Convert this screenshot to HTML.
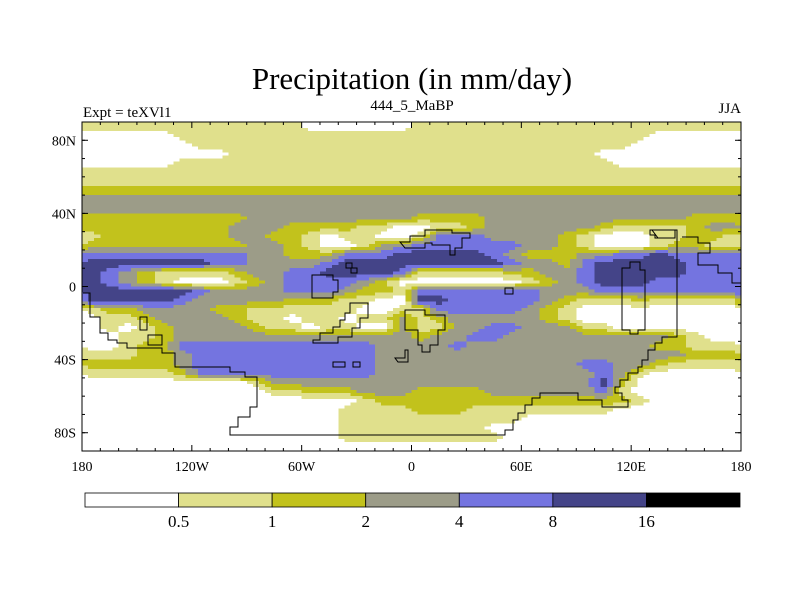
<!DOCTYPE html>
<html><head><meta charset="utf-8"><style>
body{margin:0;background:#fff;}
svg{display:block;font-family:"Liberation Serif",serif;}
</style></head><body>
<svg id="chart" width="800" height="600" viewBox="0 0 800 600">
<rect width="800" height="600" fill="#fff"/>
<text x="412" y="89" font-size="31" text-anchor="middle">Precipitation (in mm/day)</text>
<text x="83" y="117" font-size="15">Expt = teXVl1</text>
<text x="412" y="110" font-size="15" text-anchor="middle">444_5_MaBP</text>
<text x="741" y="113" font-size="15" text-anchor="end">JJA</text>
<g id="cells" shape-rendering="crispEdges"></g>
<g id="coast" fill="none" stroke="#000" stroke-width="1"></g>
<rect x="82" y="122" width="659" height="329" fill="none" stroke="#000" stroke-width="1"/>
<g id="axes"></g>
<g id="cbar"></g>
</svg>
<script>
const levels = ["0.5","1","2","4","8","16"];
const colors = ["#ffffff","#e0e08c","#c2c21c","#9c9c88","#7474e0","#444488","#000000"];
const lonTicks = [-180,-120,-60,0,60,120,180];
const lonLabels = ["180","120W","60W","0","60E","120E","180"];
const latTicks = [80,40,0,-40,-80];
const latLabels = ["80N","40N","0","40S","80S"];
// rows: latitude bands from 90N down by 5 deg; columns: 10 deg from 180W; digits = colour class
const field = [
"111111111111000000111111111111111111",
"000001111111111111111111111111100000",
"000000111111111111111111111111000000",
"000000001111111111111111111100000000",
"000001111111111111111111111110000000",
"111111111111111111111111111111111111",
"111111111111111111111111111111111111",
"222222222222222222222222222222222222",
"333333333333333333333333333333333333",
"333333333333333333333333333333333333",
"222222222333333333222233333333333222",
"222222223332222110011233333321111233",
"122222223322101100144433332100011221",
"222222222332100133444444332100012211",
"444444444332224445555543222334454444",
"555555544333345555555554332455555444",
"543211112334455554111112233455555444",
"543210001234444320000000123455544444",
"555555433334443221444444433344444444",
"555554333332221100554444432111211111",
"122333322111111001144444321000000000",
"011233332110110113123333321000000000",
"010123333211011003113344333110000000",
"001123333333333333233443333333332100",
"001224444444444433334333333333322111",
"111223444444444433333333333333333222",
"222223444444444433333333333443321111",
"111112444444444433333333333343100000",
"000000000133333333333333333352000000",
"000000000011222333222233333341000000",
"000000000000000122222222222222100000",
"000000000000001111222111111110000000",
"000000000000001111111111000000000000",
"000000000000001111111100000000000000",
"000000000000001111111110000000000000",
"000000000000000000000000000000000000"
];
const X0=82,X1=741,Y0=122,Y1=451;
const xLon = lon => X0 + (lon+180)/360*(X1-X0);
const yLat = lat => Y0 + (90-lat)/180*(Y1-Y0);
const NS="http://www.w3.org/2000/svg";
const mk=(t,a,p)=>{const e=document.createElementNS(NS,t);for(const k in a)e.setAttribute(k,a[k]);p.appendChild(e);return e;};
const NR=field.length, NC=field[0].length;
const val=(r,c)=>{r=Math.max(0,Math.min(NR-1,r));c=((c%NC)+NC)%NC;return +field[r][c];};
const cells=document.getElementById('cells');
const SUB=3;
for(let r=0;r<NR;r++){
  for(let c=0;c<NC;c++){
    for(let i=0;i<SUB;i++){
      for(let j=0;j<SUB;j++){
        // sub-cell centre in grid-index space (cell centres at integer indices)
        const fr=r+(i+0.5)/SUB-0.5, fc=c+(j+0.5)/SUB-0.5;
        const r0=Math.floor(fr), c0=Math.floor(fc), dr=fr-r0, dc=fc-c0;
        const v=val(r0,c0)*(1-dr)*(1-dc)+val(r0,c0+1)*(1-dr)*dc+val(r0+1,c0)*dr*(1-dc)+val(r0+1,c0+1)*dr*dc;
        const k=Math.round(v);
        const lo0=-180+10*(c+j/SUB), lo1=lo0+10/SUB;
        const la0=90-5*(r+i/SUB), la1=la0-5/SUB;
        const e=mk('rect',{x:xLon(lo0),y:yLat(la0),width:xLon(lo1)-xLon(lo0)+0.5,height:yLat(la1)-yLat(la0)+0.5,fill:colors[k]},cells);
        
        
      }
    }
  }
}
// coastline outlines (pixel paths)
const coastPaths=[
"M83,293 H90 V317 H100 V333 H108 V340 H117 V343 H127 V348 H162 V353 H175 V367 H230 V372 H245 V377 H257 V407 H250 V417 H238 V427 H230 V435 H505 V430 H513 V420 H518 V413 H525 V405 H532 V398 H540 V393 H578 V400 H602 V407 H628 V400 H622 V393 H615 V387 H620 V380 H628 V373 H638 V367 H642 V360 H648 V350 H655 V343 H662 V337 H677 V230 H650 V235 H655 V238 H675",
"M682,237 H698 V243 H710 V253 H698 V265 H718 V273 H732 V283 H741",
"M312,275 H333 V280 H338 V292 H333 V298 H312 Z",
"M140,317 H147 V330 H140 Z",
"M148,335 H162 V345 H148 Z",
"M313,343 V340 H320 V333 H333 V327 H340 V320 H345 V313 H350 V303 H368 V318 H360 V328 H352 V337 H338 V343 Z",
"M405,310 H425 V315 H445 V330 H438 V345 H430 V352 H422 V345 H418 V330 H405 Z",
"M400,242 H410 V236 H425 V230 H452 V233 H470 V238 H462 V248 H455 V255 H450 V245 H432 V243 H425 V248 H405 Z",
"M622,268 H630 V262 H640 V270 H645 V330 H638 V334 H630 V330 H622 Z",
"M652,230 H675 V238 H658 Z",
"M333,362 H345 V367 H333 Z",
"M353,362 H360 V367 H353 Z",
"M395,358 H405 V350 H408 V362 H398 Z",
"M505,288 H513 V294 H505 Z",
"M346,263 H352 V268 H346 Z",
"M351,268 H357 V273 H351 Z"
];
const coast=document.getElementById('coast');
coastPaths.forEach(d=>{const e=mk('path',{d:d},coast);
 
 });
// axes
const axes=document.getElementById('axes');
for(let lon=-180;lon<=180;lon+=10){
  const x=xLon(lon), major=lon%60===0;
  mk('line',{x1:x,x2:x,y1:Y1,y2:Y1-(major?6:3),stroke:'#000'},axes);
  mk('line',{x1:x,x2:x,y1:Y0,y2:Y0+(major?6:3),stroke:'#000'},axes);
}
for(let lat=-90;lat<=90;lat+=10){
  const y=yLat(lat);
  mk('line',{x1:X0,x2:X0+3,y1:y,y2:y,stroke:'#000'},axes);
  mk('line',{x1:X1,x2:X1-3,y1:y,y2:y,stroke:'#000'},axes);
}
lonTicks.forEach((lon,i)=>{
  const t=mk('text',{x:xLon(lon),y:471,'font-size':14,'text-anchor':'middle'},axes);
  t.textContent=lonLabels[i];
  
  
});
latTicks.forEach((lat,i)=>{
  const y=yLat(lat);
  mk('line',{x1:X0,x2:X0+6,y1:y,y2:y,stroke:'#000'},axes);
  mk('line',{x1:X1,x2:X1-6,y1:y,y2:y,stroke:'#000'},axes);
  const t=mk('text',{x:76,y:y+5,'font-size':14,'text-anchor':'end'},axes);
  t.textContent=latLabels[i];
  
  
});
// colorbar
const cb=document.getElementById('cbar');
const cbX0=85,cbX1=740,cbY=493,cbH=14,bw=(cbX1-cbX0)/colors.length;
colors.forEach((col,i)=>{
  const e=mk('rect',{x:cbX0+i*bw,y:cbY,width:bw,height:cbH,fill:col,stroke:'#000','stroke-width':0.8},cb);
  
  
});
levels.forEach((lv,i)=>{
  const t=mk('text',{x:cbX0+(i+1)*bw,y:527,'font-size':17,'text-anchor':'middle'},cb);
  t.textContent=lv;
  
  
});
</script>
</body></html>
